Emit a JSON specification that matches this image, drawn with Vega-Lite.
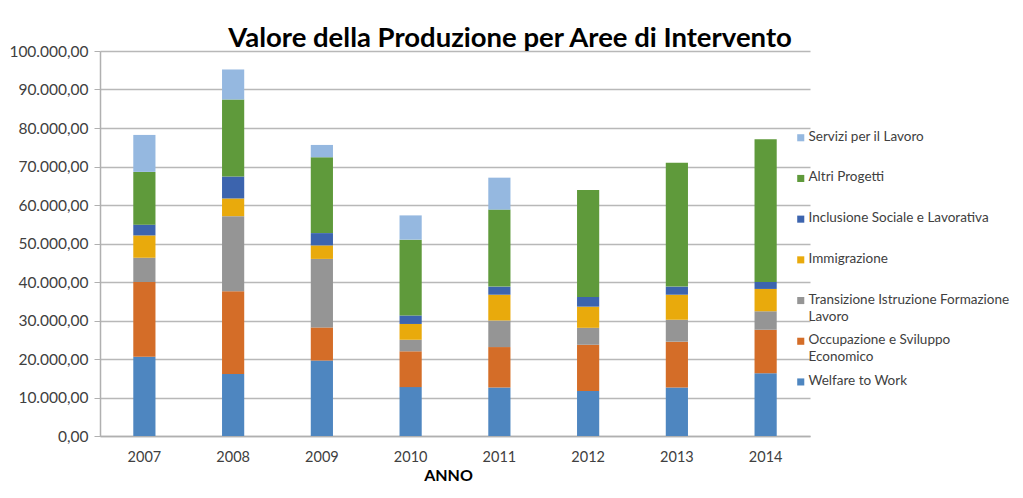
{
  "$schema": "https://vega.github.io/schema/vega-lite/v6.json",
  "autosize": {"type": "none"},
  "padding": {"left": 100, "top": 51, "right": 213, "bottom": 62},
  "width": 710,
  "height": 385,
  "background": "white",
  "title": {
    "text": "Valore della Produzione per Aree di Intervento",
    "font": "Lato",
    "fontSize": 27.5,
    "fontWeight": "bold",
    "color": "#000000",
    "anchor": "middle",
    "frame": "group",
    "dx": 55,
    "dy": 10,
    "offset": 2
  },
  "data": {
    "values": [
      {"anno": "2007", "area": "Welfare to Work", "k": 1, "valore": 20600},
      {"anno": "2007", "area": "Occupazione e Sviluppo Economico", "k": 2, "valore": 19400},
      {"anno": "2007", "area": "Transizione Istruzione Formazione Lavoro", "k": 3, "valore": 6300},
      {"anno": "2007", "area": "Immigrazione", "k": 4, "valore": 5800},
      {"anno": "2007", "area": "Inclusione Sociale e Lavorativa", "k": 5, "valore": 2800},
      {"anno": "2007", "area": "Altri Progetti", "k": 6, "valore": 13700},
      {"anno": "2007", "area": "Servizi per il Lavoro", "k": 7, "valore": 9600},
      {"anno": "2008", "area": "Welfare to Work", "k": 1, "valore": 16100},
      {"anno": "2008", "area": "Occupazione e Sviluppo Economico", "k": 2, "valore": 21500},
      {"anno": "2008", "area": "Transizione Istruzione Formazione Lavoro", "k": 3, "valore": 19500},
      {"anno": "2008", "area": "Immigrazione", "k": 4, "valore": 4600},
      {"anno": "2008", "area": "Inclusione Sociale e Lavorativa", "k": 5, "valore": 5700},
      {"anno": "2008", "area": "Altri Progetti", "k": 6, "valore": 20000},
      {"anno": "2008", "area": "Servizi per il Lavoro", "k": 7, "valore": 7800},
      {"anno": "2009", "area": "Welfare to Work", "k": 1, "valore": 19600},
      {"anno": "2009", "area": "Occupazione e Sviluppo Economico", "k": 2, "valore": 8600},
      {"anno": "2009", "area": "Transizione Istruzione Formazione Lavoro", "k": 3, "valore": 17800},
      {"anno": "2009", "area": "Immigrazione", "k": 4, "valore": 3500},
      {"anno": "2009", "area": "Inclusione Sociale e Lavorativa", "k": 5, "valore": 3200},
      {"anno": "2009", "area": "Altri Progetti", "k": 6, "valore": 19700},
      {"anno": "2009", "area": "Servizi per il Lavoro", "k": 7, "valore": 3200},
      {"anno": "2010", "area": "Welfare to Work", "k": 1, "valore": 12700},
      {"anno": "2010", "area": "Occupazione e Sviluppo Economico", "k": 2, "valore": 9300},
      {"anno": "2010", "area": "Transizione Istruzione Formazione Lavoro", "k": 3, "valore": 3000},
      {"anno": "2010", "area": "Immigrazione", "k": 4, "valore": 4100},
      {"anno": "2010", "area": "Inclusione Sociale e Lavorativa", "k": 5, "valore": 2200},
      {"anno": "2010", "area": "Altri Progetti", "k": 6, "valore": 19700},
      {"anno": "2010", "area": "Servizi per il Lavoro", "k": 7, "valore": 6300},
      {"anno": "2011", "area": "Welfare to Work", "k": 1, "valore": 12600},
      {"anno": "2011", "area": "Occupazione e Sviluppo Economico", "k": 2, "valore": 10500},
      {"anno": "2011", "area": "Transizione Istruzione Formazione Lavoro", "k": 3, "valore": 6900},
      {"anno": "2011", "area": "Immigrazione", "k": 4, "valore": 6700},
      {"anno": "2011", "area": "Inclusione Sociale e Lavorativa", "k": 5, "valore": 2100},
      {"anno": "2011", "area": "Altri Progetti", "k": 6, "valore": 20000},
      {"anno": "2011", "area": "Servizi per il Lavoro", "k": 7, "valore": 8300},
      {"anno": "2012", "area": "Welfare to Work", "k": 1, "valore": 11700},
      {"anno": "2012", "area": "Occupazione e Sviluppo Economico", "k": 2, "valore": 12000},
      {"anno": "2012", "area": "Transizione Istruzione Formazione Lavoro", "k": 3, "valore": 4400},
      {"anno": "2012", "area": "Immigrazione", "k": 4, "valore": 5500},
      {"anno": "2012", "area": "Inclusione Sociale e Lavorativa", "k": 5, "valore": 2500},
      {"anno": "2012", "area": "Altri Progetti", "k": 6, "valore": 27800},
      {"anno": "2013", "area": "Welfare to Work", "k": 1, "valore": 12600},
      {"anno": "2013", "area": "Occupazione e Sviluppo Economico", "k": 2, "valore": 11900},
      {"anno": "2013", "area": "Transizione Istruzione Formazione Lavoro", "k": 3, "valore": 5700},
      {"anno": "2013", "area": "Immigrazione", "k": 4, "valore": 6500},
      {"anno": "2013", "area": "Inclusione Sociale e Lavorativa", "k": 5, "valore": 2100},
      {"anno": "2013", "area": "Altri Progetti", "k": 6, "valore": 32200},
      {"anno": "2014", "area": "Welfare to Work", "k": 1, "valore": 16300},
      {"anno": "2014", "area": "Occupazione e Sviluppo Economico", "k": 2, "valore": 11300},
      {"anno": "2014", "area": "Transizione Istruzione Formazione Lavoro", "k": 3, "valore": 4800},
      {"anno": "2014", "area": "Immigrazione", "k": 4, "valore": 5800},
      {"anno": "2014", "area": "Inclusione Sociale e Lavorativa", "k": 5, "valore": 1800},
      {"anno": "2014", "area": "Altri Progetti", "k": 6, "valore": 37100}
    ]
  },
  "mark": {"type": "bar"},
  "encoding": {
    "x": {
      "field": "anno",
      "type": "ordinal",
      "scale": {"paddingInner": 0.75, "paddingOuter": 0.375},
      "axis": {
        "title": "ANNO",
        "titleFont": "Lato",
        "titleFontSize": 16,
        "titleFontWeight": "bold",
        "titleColor": "#000000",
        "titlePadding": 4,
        "titleX": 348,
        "labelAngle": 0,
        "labelFont": "Lato",
        "labelFontSize": 14.5,
        "labelColor": "#404040",
        "labelPadding": 14,
        "ticks": false,
        "domainColor": "#b0b0b0",
        "domainWidth": 1.5
      }
    },
    "y": {
      "field": "valore",
      "type": "quantitative",
      "stack": "zero",
      "scale": {"domain": [0, 100000], "nice": false},
      "axis": {
        "title": null,
        "values": [0, 10000, 20000, 30000, 40000, 50000, 60000, 70000, 80000, 90000, 100000],
        "format": ",.2f",
        "labelFont": "Lato",
        "labelFontSize": 15.5,
        "labelColor": "#404040",
        "labelPadding": 6,
        "tickSize": 6,
        "tickColor": "#b0b0b0",
        "domainColor": "#b0b0b0",
        "domainWidth": 1.5,
        "grid": true,
        "gridColor": "#b8b8b8",
        "gridWidth": 1.6
      }
    },
    "color": {
      "field": "area",
      "type": "nominal",
      "scale": {
        "domain": ["Servizi per il Lavoro", "Altri Progetti", "Inclusione Sociale e Lavorativa", "Immigrazione", "Transizione Istruzione Formazione Lavoro", "Occupazione e Sviluppo Economico", "Welfare to Work"],
        "range": ["#95b8e0", "#5f9a3b", "#3c64ae", "#e9aa0c", "#959595", "#d46d28", "#4e86c0"]
      },
      "legend": {
        "title": null,
        "orient": "none",
        "legendX": 694,
        "legendY": 80,
        "symbolType": "square",
        "symbolSize": 50,
        "symbolStrokeWidth": 0,
        "labelFont": "Lato",
        "labelFontSize": 13.5,
        "labelColor": "#404040",
        "labelBaseline": "top",
        "labelOffset": 1,
        "labelLimit": 300,
        "gridAlign": "all",
        "rowPadding": 8.7,
        "encoding": {
          "labels": {"dy": {"value": -8}, "lineHeight": {"value": 17}}
        },
        "labelExpr": "datum.label == 'Transizione Istruzione Formazione Lavoro' ? ['Transizione Istruzione Formazione', 'Lavoro'] : datum.label == 'Occupazione e Sviluppo Economico' ? ['Occupazione e Sviluppo', 'Economico'] : datum.label"
      }
    },
    "order": {"field": "k", "type": "quantitative"}
  },
  "config": {
    "locale": {"number": {"decimal": ",", "thousands": ".", "grouping": [3], "currency": ["€", ""]}},
    "view": {"stroke": null}
  }
}
